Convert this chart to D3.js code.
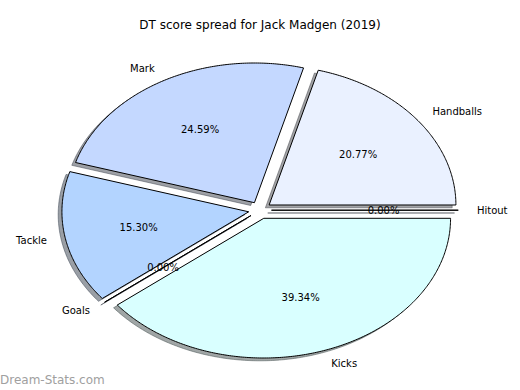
<!DOCTYPE html>
<html>
<head>
<meta charset="utf-8">
<script src="https://cdn.jsdelivr.net/npm/d3@7"></script>
<style>
  body { margin: 0; background: #fff; }
  svg { display: block; font-family: "DejaVu Sans", sans-serif; }
</style>
</head>
<body>
<svg id="chart" width="520" height="390"></svg>
<script>
// DT points per stat for the season
var labels = ["Handballs", "Mark", "Tackle", "Goals", "Kicks", "Hitout"]
var scores = [38, 45, 28, 0, 72, 0]
var colours = ["#eaf1ff", "#c4d8ff", "#b3d4ff", "#cfe3ff", "#d9ffff", "#e0ecff"]

var explode = 0.0614
var cx = 260, cy = 210.2, rx = 186.8, ry = 139.7

var svg = d3.select("#chart")

var x = d3.scaleLinear().domain([-1, 1]).range([cx - rx, cx + rx])
var y = d3.scaleLinear().domain([-1, 1]).range([cy + ry, cy - ry])

// angles counter-clockwise from 3 o'clock, like matplotlib
var pie = d3.pie().sort(null).startAngle(0).endAngle(2 * Math.PI)
var slices = pie(scores)
var total = d3.sum(scores)
var pct = d3.format(".2f")

var line = d3.line().x(function(d) { return x(d[0]) }).y(function(d) { return y(d[1]) })

function wedgePoints(d, ox, oy) {
	var mid = (d.startAngle + d.endAngle) / 2
	var dx = explode * Math.cos(mid) + ox
	var dy = explode * Math.sin(mid) + oy
	var pts = [[dx, dy]]
	var n = Math.max(1, Math.ceil((d.endAngle - d.startAngle) / 0.01))
	for (var i = 0; i <= n; i++) {
		var a = d.startAngle + (d.endAngle - d.startAngle) * i / n
		pts.push([dx + Math.cos(a), dy + Math.sin(a)])
	}
	pts.push([dx, dy])
	return pts
}

function shade(i) {
	var c = d3.rgb(colours[i])
	return d3.rgb(c.r * 0.3, c.g * 0.3, c.b * 0.3)
}

// shadows first, behind every wedge
svg.append("g").selectAll("path").data(slices).enter().append("path")
	.attr("d", function(d) { return line(wedgePoints(d, -0.02, -0.02)) })
	.attr("fill", function(d, i) { return shade(i) })
	.attr("fill-opacity", 0.5)
	.attr("stroke", function(d, i) { return shade(i) })
	.attr("stroke-opacity", 0.5)
	.attr("stroke-width", 1)

svg.append("g").selectAll("path").data(slices).enter().append("path")
	.attr("d", function(d) { return line(wedgePoints(d, 0, 0)) })
	.attr("fill", function(d, i) { return colours[i] })
	.attr("stroke", "#000")
	.attr("stroke-width", 1)
	.attr("stroke-linejoin", "miter")

var txt = svg.append("g").attr("font-size", "10px").attr("fill", "#000")

slices.forEach(function(d, i) {
	var mid = (d.startAngle + d.endAngle) / 2
	var ex = explode * Math.cos(mid), ey = explode * Math.sin(mid)
	var lx = ex + 1.1 * Math.cos(mid), ly = ey + 1.1 * Math.sin(mid)
	txt.append("text")
		.attr("x", x(lx)).attr("y", y(ly))
		.attr("dominant-baseline", "central")
		.attr("text-anchor", lx > 0 ? "start" : "end")
		.text(labels[i])
	var px = ex + 0.6 * Math.cos(mid), py = ey + 0.6 * Math.sin(mid)
	txt.append("text")
		.attr("x", x(px)).attr("y", y(py))
		.attr("dominant-baseline", "central")
		.attr("text-anchor", "middle")
		.text(pct(d.data / total * 100) + "%")
})

svg.append("text")
	.attr("x", 260).attr("y", 25)
	.attr("dominant-baseline", "central")
	.attr("text-anchor", "middle")
	.attr("font-size", "12px")
	.text("DT score spread for Jack Madgen (2019)")

svg.append("text")
	.attr("x", 0).attr("y", 380)
	.attr("dominant-baseline", "central")
	.attr("font-size", "12px")
	.attr("fill", "#a0a0a0")
	.text("Dream-Stats.com")
</script>
</body>
</html>
